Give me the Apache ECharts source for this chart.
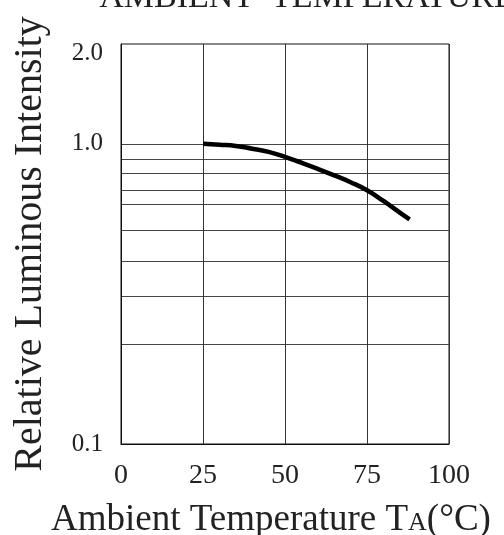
<!DOCTYPE html>
<html>
<head>
<meta charset="utf-8">
<script src="https://cdn.jsdelivr.net/npm/echarts@6/dist/echarts.min.js"></script>
<style>html,body{margin:0;padding:0;background:#fff;}#c{width:504px;height:535px;}</style>
</head>
<body>
<div id="c"></div>
<script>
// Data
var tempC = [25, 30, 35, 40, 45, 50, 55, 60, 65, 70, 75, 80, 85, 88];
var relIntensity = [1.0, 0.993, 0.984, 0.963, 0.94, 0.905, 0.865, 0.825, 0.785, 0.745, 0.70, 0.645, 0.59, 0.56];
var xTicks = [0, 25, 50, 75, 100];
var yTickLabels = [0.1, 1.0, 2.0];
var yGridValues = [0.1, 0.215, 0.31, 0.405, 0.515, 0.63, 0.70, 0.795, 0.89, 1.0];
var yMin = 0.1, yMax = 2.15;

var FONT = 'Liberation Serif';
var chart = echarts.init(document.getElementById('c'));
var points = tempC.map(function (t, i) { return [t, relIntensity[i]]; });

chart.setOption({
  animation: false,
  backgroundColor: '#fff',
  title: {
    text: 'AMBIENT  TEMPERATURE',
    left: 302, top: -24, textAlign: 'center',
    textStyle: { fontFamily: FONT, fontSize: 34, fontWeight: 'normal', color: '#222' }
  },
  grid: {
    left: 121, right: 55, top: 44, bottom: 91,
    show: true, borderColor: '#111', borderWidth: 1,
    containLabel: false, outerBoundsMode: 'none'
  },
  xAxis: {
    type: 'value', min: 0, max: 100, interval: 25,
    axisLine: { show: true, lineStyle: { color: '#111', width: 1 } },
    axisTick: { show: false },
    splitLine: { show: true, lineStyle: { color: '#333', width: 1 } },
    axisLabel: {
      margin: 18, fontFamily: FONT, fontSize: 28, color: '#222',
      customValues: xTicks
    },
    name: 'Ambient Temperature T{s|A}(°C)',
    nameLocation: 'middle', nameGap: 58,
    nameTextStyle: {
      fontFamily: FONT, fontSize: 37, color: '#222', padding: [0, 28, 0, 0],
      rich: { s: { fontFamily: FONT, fontSize: 26, color: '#222', padding: [6, 0, 0, 0] } }
    }
  },
  yAxis: {
    type: 'log', logBase: 10, min: yMin, max: yMax,
    axisLine: { show: true, lineStyle: { color: '#111', width: 1 } },
    axisTick: { show: false, customValues: yGridValues },
    splitLine: { show: true, lineStyle: { color: '#444', width: 1 } },
    axisLabel: {
      margin: 18, fontFamily: FONT, fontSize: 25, color: '#222',
      customValues: yTickLabels,
      formatter: function (v) { return Number(v).toFixed(1); }
    },
    name: 'Relative Luminous Intensity',
    nameLocation: 'middle', nameGap: 71, nameRotate: 90,
    nameTextStyle: { fontFamily: FONT, fontSize: 40, color: '#222' }
  },
  series: [{
    type: 'line',
    data: points,
    smooth: true,
    showSymbol: false,
    lineStyle: { color: '#000', width: 4.5 }
  }]
});
</script>
</body>
</html>
